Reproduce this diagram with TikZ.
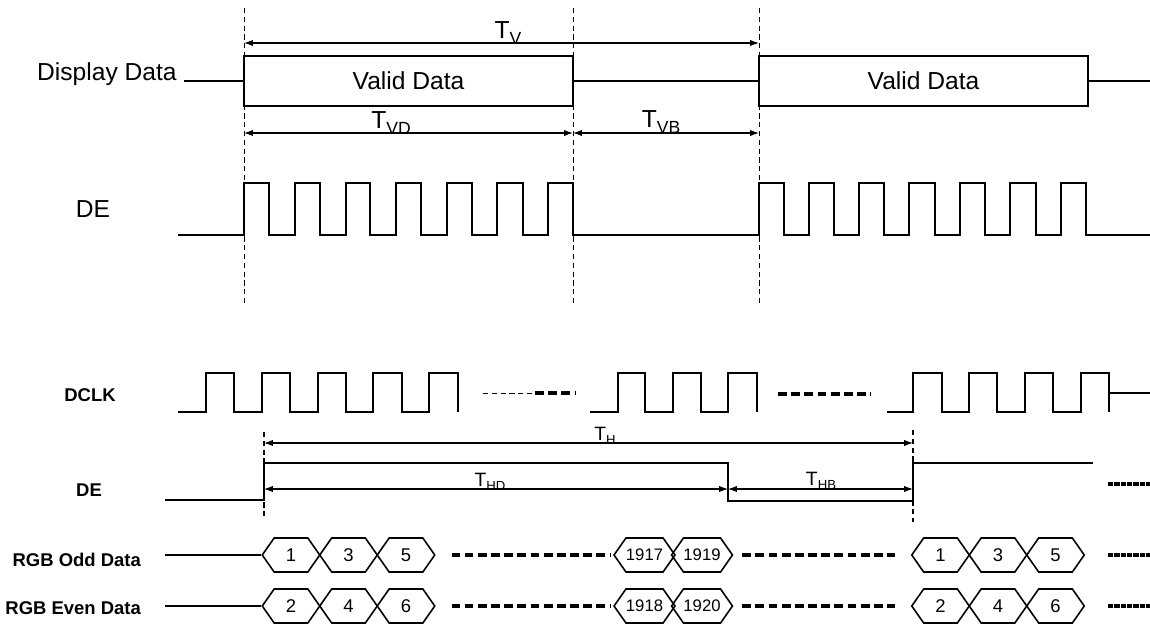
\documentclass[tikz,border=0pt]{standalone}
\usepackage{fontspec}
\setmainfont{Liberation Sans}
\usepackage{tikz}
\usetikzlibrary{arrows.meta,shapes.symbols}
\newcommand{\tsub}[2][10]{T\raisebox{-0.45ex}{\fontsize{#1}{#1}\selectfont #2}}

\begin{document}
\begin{tikzpicture}[x=0.02cm, y=-0.02cm,
        wave/.style={line width=1.5pt},
        lowwave/.style={line width=1.1pt},
        guide/.style={densely dashed, line width=0.4pt},
        marker/.style={densely dashed, line width=1.3pt},
        dimline/.style={{Latex[length=5pt,width=3.5pt]}-{Latex[length=5pt,width=3.5pt]}, line width=0.6pt},
        bigdash/.style={line width=1.8pt, dash pattern=on 5pt off 2.5pt},
        tailbar/.style={line width=1.8pt, dash pattern=on 3pt off 0.6pt},
        bigfont/.style={font=\fontsize{14}{16}\selectfont},
        midfont/.style={font=\fontsize{11}{13}\selectfont},
        smallfont/.style={font=\bfseries\fontsize{10.5}{12}\selectfont},
        validbox/.style={draw, line width=1.5pt, minimum width=6.58cm, minimum height=1cm, inner sep=0pt, font=\fontsize{14}{16}\selectfont},
        datacell/.style={signal, signal to=east and west, signal pointer angle=110, draw, line width=0.9pt, minimum width=1.15cm, minimum height=0.68cm, inner sep=0pt, font=\fontsize{10.5}{12}\selectfont},
        widecell/.style={datacell, font=\fontsize{9.5}{11}\selectfont}
        ]
    \useasboundingbox (0,0) rectangle (1150,625);

    % frame level
    \node[bigfont, anchor=base west] (disp) at (31,81) {Display Data};
    \node[bigfont] (de1) at (93,209) {DE};
    \node[validbox] (vd1) at (408.5,81) {Valid Data};
    \node[validbox] (vd2) at (923.5,81) {Valid Data};
    \coordinate (dispin) at (184,81);
    \coordinate (dispout) at (1150,81);

    \coordinate (ga) at (244,8);
    \coordinate (gab) at (244,305);
    \coordinate (gb) at (573,8);
    \coordinate (gbb) at (573,305);
    \coordinate (gc) at (759,8);
    \coordinate (gcb) at (759,305);

    \coordinate (tvl) at (244,43);
    \coordinate (tvr) at (759,43);
    \coordinate (tvdl) at (244,133);
    \coordinate (tvdr) at (573,133);
    \coordinate (tvbr) at (759,133);

    \node[bigfont] (tv) at (508,33) {\tsub{V}};
    \node[bigfont] (tvd) at (391,123) {\tsub{VD}};
    \node[bigfont] (tvb) at (661,122) {\tsub{VB}};

    \draw[guide] (ga) -- (gab);
    \draw[guide] (gb) -- (gbb);
    \draw[guide] (gc) -- (gcb);

    \draw[wave] (dispin) -- (vd1.west);
    \draw[wave] (vd1.east) -- (vd2.west);
    \draw[wave] (vd2.east) -- (dispout);

    \draw[dimline] (tvl) -- (tvr);
    \draw[dimline] (tvdl) -- (tvdr);
    \draw[dimline] (tvdr) -- (tvbr);

    \draw[wave] (178,235) -| (244,183) -| (269,235) -| (295,183) -| (320,235) -| (346,183) -| (370,235) -| (396,183) -| (421,235) -| (447,183) -| (472,235) -| (497,183) -| (523,235) -| (548,183) -| (573,235)
        -| (759,183) -| (784,235) -| (809,183) -| (834,235) -| (859,183) -| (884,235) -| (909,183) -| (935,235) -| (960,183) -| (985,235) -| (1010,183) -| (1036,235) -| (1061,183) -| (1086,235) -- (1150,235);

    % line level
    \node[smallfont] (dclk) at (90,395) {DCLK};
    \node[smallfont] (de2) at (89,490) {DE};
    \node[smallfont, anchor=east] (odd) at (147,560) {RGB Odd Data};
    \node[smallfont, anchor=east] (even) at (147,608) {RGB Even Data};

    \draw[lowwave] (178,412) -| (206,373) -| (234,412) -| (262,373) -| (290,412) -| (318,373) -| (346,412) -| (373,373) -| (402,412) -| (429,373) -| (458,412);
    \draw[guide] (483,393) -- (535,393);
    \draw[bigdash] (535,393) -- (575,393);
    \draw[lowwave] (590,412) -| (618,373) -| (645,412) -| (673,373) -| (701,412) -| (728,373) -| (757,412);
    \draw[bigdash] (778,394) -- (871,394);
    \draw[lowwave] (887,412) -| (913,373) -| (942,412) -| (969,373) -| (997,412) -| (1025,373) -| (1053,412) -| (1081,373) -| (1109,412);
    \draw[wave] (1109,393) -- (1150,393);

    \coordinate (ha) at (264,432);
    \coordinate (hab) at (264,517);
    \coordinate (hb) at (913,430);
    \coordinate (hbb) at (913,522);
    \coordinate (thl) at (264,443);
    \coordinate (thr) at (913,443);
    \coordinate (thdl) at (264,489);
    \coordinate (thdr) at (728,489);
    \coordinate (thbr) at (913,489);

    \node[midfont] (th) at (605,436) {\tsub[7.5]{H}};
    \node[midfont] (thd) at (490,482) {\tsub[7.5]{HD}};
    \node[midfont] (thb) at (821,481) {\tsub[7.5]{HB}};

    \draw[lowwave] (165,500) -| (264,463) -| (728,501) -| (913,463) -- (1093,463);
    \draw[tailbar] (1108,484) -- (1150,484);
    \draw[marker] (ha) -- (hab);
    \draw[marker] (hb) -- (hbb);
    \draw[dimline] (thl) -- (thr);
    \draw[dimline] (thdl) -- (thdr);
    \draw[dimline] (thdr) -- (thbr);

    \node[datacell] (o1) at (291,555) {1};
    \node[datacell] (o3) at (348.5,555) {3};
    \node[datacell] (o5) at (406,555) {5};
    \node[widecell] (o1917) at (644.5,555) {1917};
    \node[widecell] (o1919) at (702,555) {1919};
    \node[datacell] (p1) at (940.5,555) {1};
    \node[datacell] (p3) at (998,555) {3};
    \node[datacell] (p5) at (1055.5,555) {5};

    \node[datacell] (e2) at (291,606) {2};
    \node[datacell] (e4) at (348.5,606) {4};
    \node[datacell] (e6) at (406,606) {6};
    \node[widecell] (e1918) at (644.5,606) {1918};
    \node[widecell] (e1920) at (702,606) {1920};
    \node[datacell] (q2) at (940.5,606) {2};
    \node[datacell] (q4) at (998,606) {4};
    \node[datacell] (q6) at (1055.5,606) {6};

    \coordinate (oddin) at (165,555);
    \coordinate (oddout) at (1150,555);
    \coordinate (evenin) at (165,606);
    \coordinate (evenout) at (1150,606);

    \draw[line width=1pt] (oddin) -- (o1.west);
    \draw[line width=1pt] (evenin) -- (e2.west);
    \draw[bigdash, shorten <=9pt, shorten >=1.5pt] (o5.east) -- (o1917.west);
    \draw[bigdash, shorten <=5pt, shorten >=9pt] (o1919.east) -- (p1.west);
    \draw[tailbar, shorten <=13pt] (p5.east) -- (oddout);
    \draw[bigdash, shorten <=9pt, shorten >=1.5pt] (e6.east) -- (e1918.west);
    \draw[bigdash, shorten <=5pt, shorten >=9pt] (e1920.east) -- (q2.west);
    \draw[tailbar, shorten <=13pt] (q6.east) -- (evenout);

\end{tikzpicture}
\end{document}
